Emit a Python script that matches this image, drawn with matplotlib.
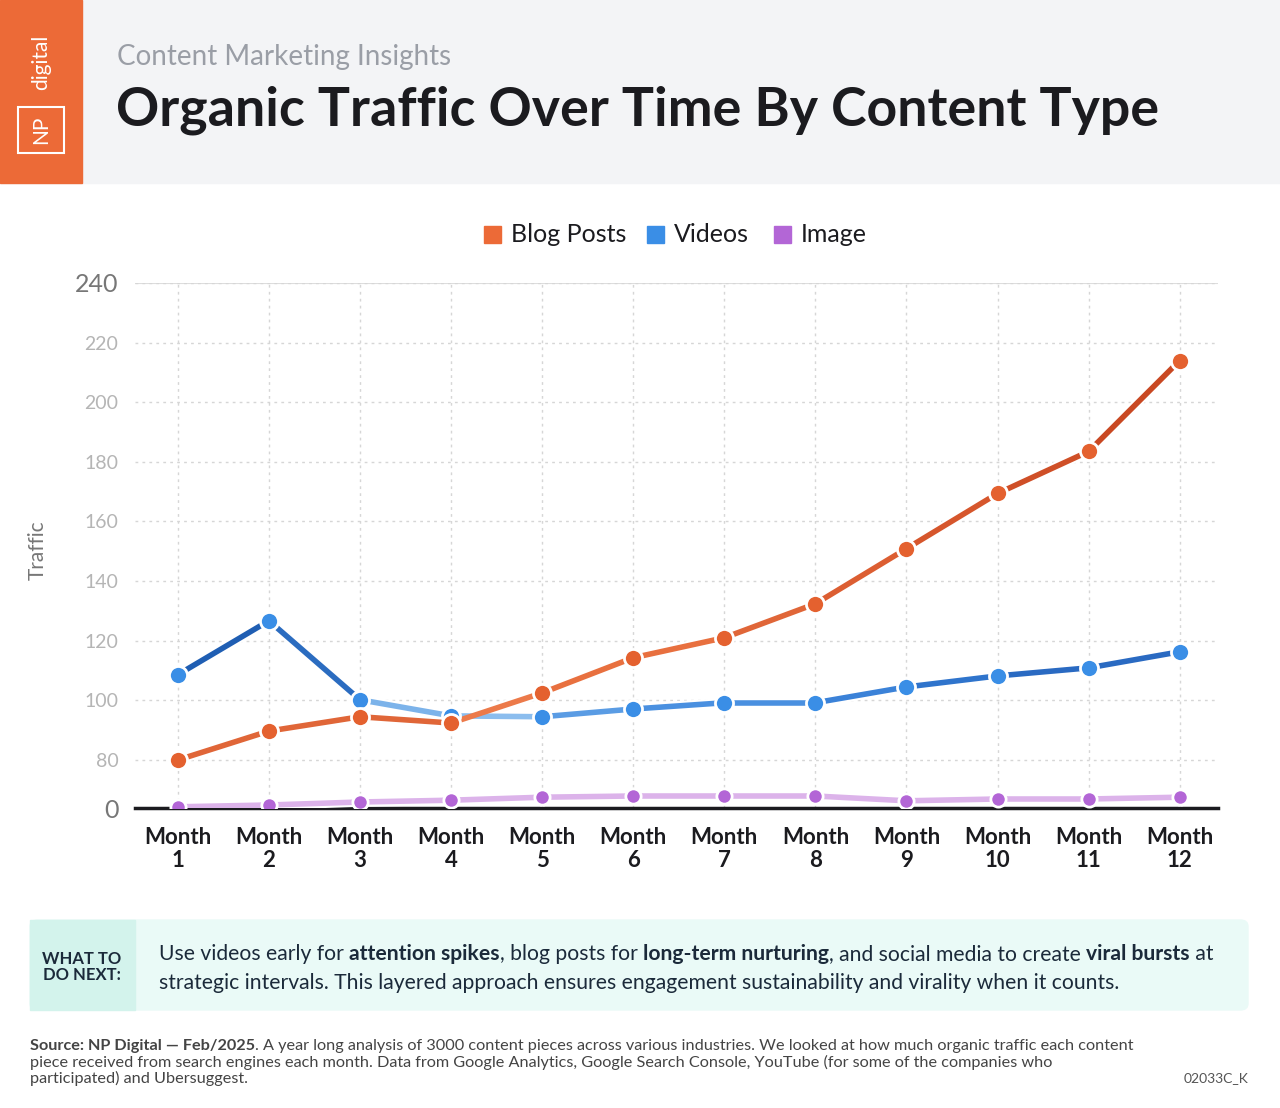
import numpy as np
import matplotlib.pyplot as plt
from matplotlib.patches import Rectangle, FancyBboxPatch

plt.rcParams['font.family'] = ['Lato', 'DejaVu Sans']

months = ['Month\n1', 'Month\n2', 'Month\n3', 'Month\n4', 'Month\n5', 'Month\n6',
          'Month\n7', 'Month\n8', 'Month\n9', 'Month\n10', 'Month\n11', 'Month\n12']
blog = [80, 89.7, 94.5, 92.4, 102.5, 114.3, 121, 132.4, 150.9, 169.4, 183.5, 214]
videos = [108.6, 126.7, 100.2, 94.8, 94.5, 97.1, 99.2, 99.2, 104.5, 108.2, 110.9, 116.3]
image = [2, 5, 10, 13, 18, 20, 20, 20, 12, 15, 15, 18]
yticks = [0, 80, 100, 120, 140, 160, 180, 200, 220, 240]

GAP = 48 / 59.6  # height of 0-80 band in units of a 20-step


def fwd(v):
    v = np.asarray(v, dtype=float)
    return np.where(v < 80, -GAP + v / 80 * GAP, (v - 80) / 20)


def inv(y):
    y = np.asarray(y, dtype=float)
    return np.where(y < 0, (y + GAP) / GAP * 80, y * 20 + 80)


fig = plt.figure(figsize=(12.8, 11.08), dpi=100)
W, H = 1280, 1108


def fx(px):
    return px / W


def fy(py):
    return 1 - py / H


# header
fig.patches.append(Rectangle((0, fy(183)), 1, 183 / H, transform=fig.transFigure, color='#f3f4f6', zorder=0))
fig.patches.append(Rectangle((0, fy(183)), fx(82), 183 / H, transform=fig.transFigure, color='#ec6a37', zorder=1))
fig.patches.append(Rectangle((fx(18), fy(153)), fx(46), 46 / H, transform=fig.transFigure, fill=False,
                             ec='white', lw=1.5, zorder=2))
fig.text(fx(41), fy(130), 'NP', color='white', rotation=90, fontsize=15, ha='center', va='center', zorder=3)
fig.text(fx(41), fy(62), 'digital', color='white', rotation=90, fontsize=15, ha='center', va='center', zorder=3)
fig.text(fx(117), fy(57), 'Content Marketing Insights', fontsize=20, color='#9a9ea6', va='center')
fig.text(fx(116), fy(110), 'Organic Traffic Over Time By Content Type', fontsize=38.6, fontweight='bold',
         color='#1b1b1f', va='center')

ax = fig.add_axes([fx(135), fy(808), fx(1218 - 135), (808 - 283) / H])
ax.set_yscale('function', functions=(fwd, inv))
x = np.arange(len(months))


def seg_line(vals, colors, lw=4):
    for i in range(len(vals) - 1):
        ax.plot(x[i:i + 2], vals[i:i + 2], color='white', lw=lw + 3, solid_capstyle='round', zorder=3)
    for i in range(len(vals) - 1):
        ax.plot(x[i:i + 2], vals[i:i + 2], color=colors[i], lw=lw, solid_capstyle='round', zorder=4)


seg_line(image, ['#dcb3ea'] * 11)
ax.plot(x, image, 'o', ms=11, color='#b366d6', mec='white', mew=2, zorder=5)

vcol = ['#1f5eb3', '#2b6cc0', '#7cb3ea', '#8bbdee', '#5a9ce4', '#4a90e0', '#4a90e0', '#3b82d8',
        '#2f74cc', '#2a6ac2', '#2a6ac2']
seg_line(videos, vcol)
ax.plot(x, videos, 'o', ms=13, color='#3a8ee6', mec='white', mew=2, zorder=6)

bcol = ['#e06638', '#e06638', '#e06638', '#ec7a4a', '#e8703f', '#e8703f', '#e06638', '#dc5e32',
        '#d6562c', '#cf4f27', '#c94822']
seg_line(blog, bcol)
ax.plot(x, blog, 'o', ms=13, color='#e4612f', mec='white', mew=2, zorder=7)

ax.set_xlim(-0.47, 11.42)
ax.set_ylim(0, 240)
ax.set_yticks(yticks)
ax.set_yticklabels([str(t) for t in yticks])
for lbl, t in zip(ax.get_yticklabels(), yticks):
    if t in (0, 240):
        lbl.set_fontsize(18)
        lbl.set_color('#777777')
    else:
        lbl.set_fontsize(14)
        lbl.set_color('#b5b5b5')
ax.set_xticks(x)
ax.set_xticklabels(months, fontsize=16, fontweight='bold', color='#1b1b1f', linespacing=1.1)
ax.tick_params(length=0, pad=12)
ax.tick_params(axis='x', pad=14)
ax.grid(True, ls=(0, (2, 3)), color='#d6d6d6', lw=1)
for s in ['top', 'right', 'left']:
    ax.spines[s].set_visible(False)
ax.spines['bottom'].set_color('#1b1b1f')
ax.spines['bottom'].set_linewidth(2.5)
ax.axhline(240, color='#dddddd', lw=1.5, zorder=1)
fig.text(fx(38), fy(550), 'Traffic', rotation=90, fontsize=15, color='#777777', ha='center', va='center')

# legend
for px, c, lab in [(484, '#ec6a37', 'Blog Posts'), (647, '#3a8ee6', 'Videos'), (774, '#b366d6', 'Image')]:
    fig.patches.append(Rectangle((fx(px), fy(243)), fx(17), 17 / H, transform=fig.transFigure, color=c))
    fig.text(fx(px + 27), fy(235), lab, fontsize=18, color='#1b1b1f', va='center')

# callout
fig.patches.append(FancyBboxPatch((fx(30), fy(1010)), fx(1218), 90 / H, boxstyle='round,pad=0,rounding_size=0.006',
                                  transform=fig.transFigure, color='#eafaf7', zorder=0))
fig.patches.append(Rectangle((fx(30), fy(1010)), fx(105), 90 / H, transform=fig.transFigure, color='#d3f3ec', zorder=0))
fig.text(fx(82), fy(967), 'WHAT TO\nDO NEXT:', fontsize=12, fontweight='bold', color='#1b2a3a', ha='center',
         va='center', linespacing=1.0)
fs = 15.2
line1 = [('Use videos early for ', 'normal'), ('attention spikes', 'bold'), (', blog posts for ', 'normal'),
         ('long-term nurturing', 'bold'), (', and social media to create ', 'normal'), ('viral bursts', 'bold'),
         (' at', 'normal')]
fig.canvas.draw()
r = fig.canvas.get_renderer()
xpos = fx(159)
for txt, wgt in line1:
    t = fig.text(xpos, fy(954), txt, fontsize=fs, fontweight=wgt, color='#1b2a3a', va='center')
    xpos += t.get_window_extent(r).width / W
fig.text(fx(159), fy(983), 'strategic intervals. This layered approach ensures engagement sustainability and '
         'virality when it counts.', fontsize=fs, color='#1b2a3a', va='center')

# footer
t = fig.text(fx(30), fy(1046), 'Source: NP Digital — Feb/2025', fontsize=11.7, fontweight='bold', color='#444444',
             va='center')
w = t.get_window_extent(r).width / W
fig.text(fx(30) + w, fy(1046), '. A year long analysis of 3000 content pieces across various industries. '
         'We looked at how much organic traffic each content', fontsize=11.7, color='#444444', va='center')
fig.text(fx(30), fy(1062), 'piece received from search engines each month. Data from Google Analytics, Google '
         'Search Console, YouTube (for some of the companies who', fontsize=11.7, color='#444444', va='center')
fig.text(fx(30), fy(1078), 'participated) and Ubersuggest.', fontsize=11.7, color='#444444', va='center')
fig.text(fx(1248), fy(1078), '02033C_K', fontsize=10, color='#555555', ha='right', va='center')

fig.savefig('out.png', dpi=100)
